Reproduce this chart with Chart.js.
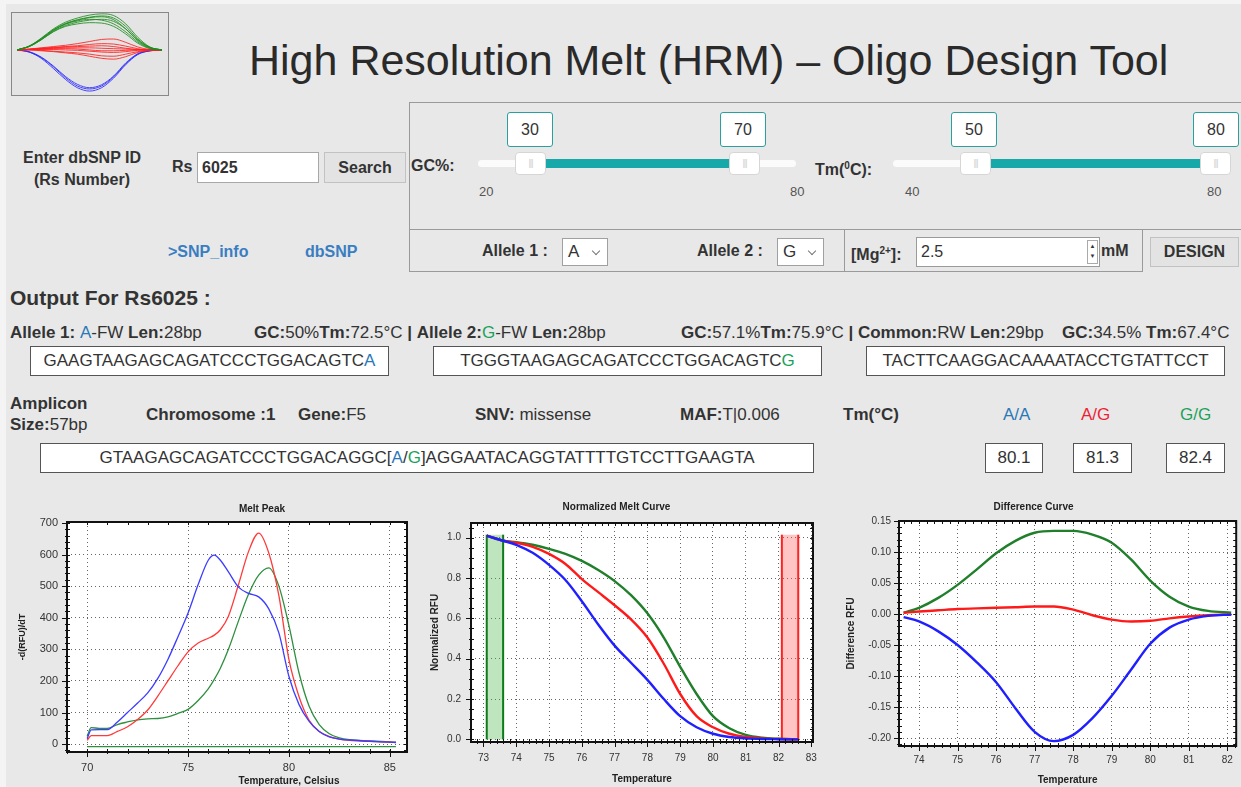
<!DOCTYPE html>
<html lang="en">
<head>
<meta charset="UTF-8">
<title>High Resolution Melt (HRM) - Oligo Design Tool</title>
<script src="https://cdn.jsdelivr.net/npm/chart.js"></script>
<style>
  body {
    margin: 0;
    width: 1241px;
    height: 787px;
    overflow: hidden;
    position: relative;
    background: #f4f4f4;
    font-family: "Liberation Sans", Arial, sans-serif;
    color: #333;
  }
  .sheet { position: absolute; left: 6px; top: 4px; right: 0; bottom: 0; background: #e8e8e8; }
  .t { position: absolute; white-space: nowrap; font-size: 16px; line-height: 20px; }
  .b { font-weight: bold; }
  .bl { color: #2b78b8; }
  .gr { color: #1aa25a; }
  .rd { color: #ee1d36; }
  .box {
    position: absolute; background: #fff; border: 1px solid #555; box-sizing: border-box;
    text-align: center; white-space: nowrap; font-size: 17px; line-height: 27px;
  }
  .panel { position: absolute; border: 1px solid #9a9a9a; box-sizing: border-box; }
  .btn {
    position: absolute; background: #e3e3e3; border: 1px solid #c2c2c2; box-sizing: border-box;
    font-weight: bold; font-size: 16px; text-align: center;
  }
  .vbox {
    position: absolute; top: 112px; width: 46px; height: 35px; background: #fff;
    border: 1px solid #2a9f9f; border-radius: 3px; box-sizing: border-box;
    text-align: center; line-height: 33px; font-size: 16px;
  }
  .track { position: absolute; top: 160px; height: 7px; background: #fbfbfb; border-radius: 4px; }
  .fill { position: absolute; top: 159px; height: 9px; background: #17a8a9; }
  .knob {
    position: absolute; top: 152px; width: 31px; height: 23px; background: #fff;
    border: 1px solid #d6d6d6; border-radius: 4px; box-sizing: border-box;
    text-align: center; font-size: 9px; line-height: 21px; color: #d0d0d0; letter-spacing: -1px;
  }
  .scl { position: absolute; font-size: 13px; line-height: 16px; color: #555; }
  .sel {
    position: absolute; top: 238px; height: 28px; background: #fff; border: 1px solid #a0a0a0;
    box-sizing: border-box; font-size: 17px; line-height: 26px; padding-left: 5px;
  }
  .chev {
    position: absolute; top: 9px; right: 8px; width: 5px; height: 5px;
    border-right: 1px solid #777; border-bottom: 1px solid #777; transform: rotate(45deg);
  }
  .chart { position: absolute; }
  .ctitle { position: absolute; font-size: 10px; font-weight: bold; color: #222; line-height: 12px; white-space: nowrap; }
</style>
</head>
<body>
<div class="sheet"></div>

<!-- logo -->
<div class="panel" style="left:11px; top:12px; width:158px; height:84px; border-color:#888; background:#e4e4e4;"></div>
<div class="chart" style="left:12px; top:13px;"><canvas id="logo" width="155" height="81"></canvas></div>

<div class="t" style="left:249px; top:36px; font-size:43px; line-height:48px; color:#2a2a2a;">High Resolution Melt (HRM) – Oligo Design Tool</div>

<!-- search block -->
<div class="t b" style="left:0; width:164px; text-align:center; top:148px;">Enter dbSNP ID</div>
<div class="t b" style="left:0; width:164px; text-align:center; top:170px;">(Rs Number)</div>
<div class="t b" style="left:172px; top:157px;">Rs</div>
<div class="box" style="left:197px; top:152px; width:122px; height:31px; border-color:#a8a8a8; text-align:left; padding-left:4px; font-weight:bold; font-size:16px; line-height:29px;">6025</div>
<div class="btn" style="left:324px; top:152px; width:82px; height:31px; line-height:29px;">Search</div>
<div class="t b" style="left:168px; top:242px; color:#3a7ec2;">&gt;SNP_info</div>
<div class="t b" style="left:305px; top:242px; color:#3a7ec2;">dbSNP</div>

<!-- parameter panel -->
<div class="panel" style="left:409px; top:102px; width:840px; height:128px;"></div>
<div class="panel" style="left:409px; top:229px; width:734px; height:43px;"></div>
<div class="panel" style="left:844px; top:229px; width:1px; height:43px; border-width:0 0 0 1px;"></div>

<div class="t b" style="left:411px; top:156px;">GC%:</div>
<div class="vbox" style="left:507px;">30</div>
<div class="vbox" style="left:720px;">70</div>
<div class="track" style="left:478px; width:318px;"></div>
<div class="fill" style="left:540px; width:195px;"></div>
<div class="knob" style="left:515px;">|||</div>
<div class="knob" style="left:729px;">|||</div>
<div class="scl" style="left:479px; top:184px;">20</div>
<div class="scl" style="left:790px; top:184px;">80</div>

<div class="t b" style="left:815px; top:156px;">Tm(<sup style="font-size:10px;">0</sup>C):</div>
<div class="vbox" style="left:951px;">50</div>
<div class="vbox" style="left:1193px;">80</div>
<div class="track" style="left:893px; width:337px;"></div>
<div class="fill" style="left:985px; width:220px;"></div>
<div class="knob" style="left:960px;">|||</div>
<div class="knob" style="left:1200px;">|||</div>
<div class="scl" style="left:905px; top:184px;">40</div>
<div class="scl" style="left:1207px; top:184px;">80</div>

<div class="t b" style="left:482px; top:241px;">Allele 1 :</div>
<div class="sel" style="left:562px; width:46px;">A<span class="chev"></span></div>
<div class="t b" style="left:697px; top:241px;">Allele 2 :</div>
<div class="sel" style="left:777px; width:47px;">G<span class="chev"></span></div>
<div class="t b" style="left:851px; top:241px;">[Mg<sup style="font-size:10px;">2+</sup>]:</div>
<div class="box" style="left:916px; top:237px; width:184px; height:30px; border-color:#9a9a9a; text-align:left; padding-left:4px; font-size:16px;">2.5
  <span style="position:absolute; right:1px; top:2px; width:11px; height:24px; border:1px solid #aaa; box-sizing:border-box; font-size:6px; line-height:10px; text-align:center; color:#333;">▲<br>▼</span>
</div>
<div class="t b" style="left:1101px; top:241px;">mM</div>
<div class="btn" style="left:1150px; top:237px; width:89px; height:30px; line-height:28px;">DESIGN</div>

<!-- output block -->
<div class="t b" style="left:10px; top:287px; font-size:21px; line-height:22px;">Output For Rs6025 :</div>

<div class="t" style="left:10px; top:323px; font-size:17px;"><b>Allele 1: </b><span class="bl">A</span>-FW <b>Len:</b>28bp</div>
<div class="t" style="left:254px; top:323px; font-size:17px;"><b>GC:</b>50%<b>Tm:</b>72.5°C <b>|</b> <b>Allele 2:</b><span class="gr">G</span>-FW <b>Len:</b>28bp</div>
<div class="t" style="left:681px; top:323px; font-size:17px;"><b>GC:</b>57.1%<b>Tm:</b>75.9°C <b>|</b> <b>Common:</b>RW <b>Len:</b>29bp</div>
<div class="t" style="left:1062px; top:323px; font-size:17px;"><b>GC:</b>34.5% <b>Tm:</b>67.4°C</div>

<div class="box" style="left:30px; top:346px; width:359px; height:30px;">GAAGTAAGAGCAGATCCCTGGACAGTC<span class="bl">A</span></div>
<div class="box" style="left:433px; top:346px; width:389px; height:30px;">TGGGTAAGAGCAGATCCCTGGACAGTC<span class="gr">G</span></div>
<div class="box" style="left:866px; top:346px; width:359px; height:30px;">TACTTCAAGGACAAAATACCTGTATTCCT</div>

<div class="t b" style="left:10px; top:394px; font-size:17px;">Amplicon</div>
<div class="t" style="left:10px; top:415px; font-size:17px;"><b>Size:</b>57bp</div>
<div class="t b" style="left:146px; top:405px; font-size:17px;">Chromosome :1</div>
<div class="t" style="left:298px; top:405px; font-size:17px;"><b>Gene:</b>F5</div>
<div class="t" style="left:475px; top:405px; font-size:17px;"><b>SNV:</b> missense</div>
<div class="t" style="left:680px; top:405px; font-size:17px;"><b>MAF:</b>T|0.006</div>
<div class="t b" style="left:843px; top:405px; font-size:17px;">Tm(°C)</div>
<div class="t bl" style="left:1003px; top:405px; font-size:17px;">A/A</div>
<div class="t rd" style="left:1081px; top:405px; font-size:17px;">A/G</div>
<div class="t gr" style="left:1180px; top:405px; font-size:17px;">G/G</div>

<div class="box" style="left:40px; top:443px; width:774px; height:30px;">GTAAGAGCAGATCCCTGGACAGGC[<span class="bl">A</span>/<span class="gr">G</span>]AGGAATACAGGTATTTTGTCCTTGAAGTA</div>
<div class="box" style="left:985px; top:443px; width:58px; height:30px;">80.1</div>
<div class="box" style="left:1073px; top:443px; width:59px; height:30px;">81.3</div>
<div class="box" style="left:1166px; top:443px; width:59px; height:30px;">82.4</div>

<!-- charts -->
<div class="chart" style="left:10px; top:497px;"><canvas id="peak" width="405" height="290"></canvas></div>
<div class="ctitle" style="left:212px; width:100px; text-align:center; top:503px;">Melt Peak</div>
<div class="ctitle" style="left:229px; width:120px; text-align:center; top:775px;">Temperature, Celsius</div>
<div class="chart" style="left:420px; top:497px;"><canvas id="norm" width="410" height="290"></canvas></div>
<div class="chart" style="left:830px; top:497px;"><canvas id="diff" width="411" height="290"></canvas></div>

<script>
// ---- values ----

// Melt Peak (-d(RFU)/dT)
const peakTemps = [70.0, 70.2, 70.6, 71.0, 71.5, 72.0, 72.5, 73.0, 73.5, 74.0, 74.5, 75.0, 75.5, 76.0, 76.3, 76.6,
                   77.0, 77.5, 78.0, 78.5, 79.0, 79.5, 80.0, 80.5, 81.0, 81.5, 82.0, 82.5, 83.0, 84.0, 85.0, 85.3];
const peakBlue  = [18, 45, 46, 46, 70, 100, 130, 162, 208, 268, 340, 415, 505, 582, 598, 582,
                   545, 497, 477, 466, 428, 352, 214, 125, 72, 40, 23, 16, 13, 9, 6, 5];
const peakRed   = [12, 27, 27, 27, 40, 55, 78, 108, 152, 200, 248, 292, 320, 335, 345, 362,
                   405, 505, 610, 668, 605, 470, 267, 150, 75, 40, 24, 16, 12, 9, 6, 5];
const peakGreen = [25, 52, 50, 50, 62, 70, 77, 80, 81, 86, 97, 110, 138, 175, 205, 240,
                   300, 390, 475, 535, 558, 500, 375, 225, 120, 62, 33, 20, 14, 10, 7, 6];
const peakBaseTemps = [70.0, 85.3];
const peakBaseLevel = [-8, -8];
const peakXTicks = [70, 75, 80, 85];
const peakYTicks = [0, 100, 200, 300, 400, 500, 600, 700];

// Normalized Melt Curve
const normTemps = [73.1, 73.6, 74.0, 74.5, 75.0, 75.5, 76.0, 76.5, 77.0, 77.5, 78.0, 78.5, 79.0, 79.5, 80.0, 80.5, 81.0, 81.5, 82.0, 82.6];
const normBlue  = [1.01, 0.985, 0.965, 0.925, 0.865, 0.79, 0.685, 0.57, 0.465, 0.38, 0.295, 0.2, 0.115, 0.06, 0.028, 0.012, 0.005, 0.002, 0.001, 0];
const normRed   = [1.01, 0.985, 0.975, 0.955, 0.92, 0.87, 0.795, 0.73, 0.665, 0.595, 0.505, 0.375, 0.225, 0.115, 0.06, 0.028, 0.012, 0.005, 0.002, 0];
const normGreen = [1.01, 0.985, 0.978, 0.965, 0.945, 0.92, 0.885, 0.84, 0.785, 0.715, 0.625, 0.505, 0.36, 0.225, 0.115, 0.055, 0.022, 0.008, 0.003, 0];
const preMeltBand  = [73.1, 73.6];
const postMeltBand = [82.1, 82.6];
const bandTop = 1.015;
const normXTicks = [73, 74, 75, 76, 77, 78, 79, 80, 81, 82, 83];
const normYTicks = [0, 0.2, 0.4, 0.6, 0.8, 1.0];

// Difference Curve
const diffTemps = [73.6, 74.0, 74.5, 75.0, 75.5, 76.0, 76.5, 77.0, 77.5, 78.0, 78.5, 79.0, 79.5, 80.0, 80.5, 81.0, 81.5, 82.1];
const diffGreen = [0.002, 0.01, 0.026, 0.047, 0.072, 0.098, 0.118, 0.131, 0.134, 0.134, 0.128, 0.115, 0.088, 0.054, 0.028, 0.012, 0.005, 0.002];
const diffRed   = [0.002, 0.004, 0.006, 0.008, 0.009, 0.01, 0.011, 0.012, 0.012, 0.007, -0.002, -0.009, -0.012, -0.011, -0.007, -0.004, -0.002, -0.001];
const diffBlue  = [-0.005, -0.012, -0.028, -0.05, -0.078, -0.11, -0.152, -0.19, -0.205, -0.195, -0.168, -0.132, -0.09, -0.048, -0.022, -0.009, -0.003, -0.001];
const diffXTicks = [74, 75, 76, 77, 78, 79, 80, 81, 82];
const diffYTicks = [-0.2, -0.15, -0.1, -0.05, 0, 0.05, 0.1, 0.15];

// logo thumbnail (difference-plot style)
const logoX = [0, 1, 2, 3, 4, 5, 6, 7, 8, 9, 10, 11, 12];
const logoGreen = [
  [0, 0.08, 0.24, 0.44, 0.58, 0.66, 0.71, 0.73, 0.68, 0.5, 0.24, 0.06, 0],
  [0, 0.09, 0.27, 0.48, 0.63, 0.72, 0.78, 0.81, 0.76, 0.56, 0.26, 0.06, 0],
  [0, 0.08, 0.25, 0.46, 0.61, 0.69, 0.73, 0.71, 0.62, 0.43, 0.19, 0.04, 0],
  [0, 0.09, 0.28, 0.5, 0.66, 0.76, 0.83, 0.86, 0.82, 0.62, 0.3, 0.07, 0],
  [0, 0.08, 0.24, 0.43, 0.56, 0.62, 0.65, 0.64, 0.56, 0.38, 0.16, 0.03, 0],
  [0, 0.09, 0.26, 0.47, 0.62, 0.71, 0.77, 0.79, 0.72, 0.5, 0.22, 0.05, 0]
];
const logoRed = [
  [0, 0.02, 0.05, 0.08, 0.11, 0.15, 0.2, 0.25, 0.26, 0.18, 0.07, 0.01, 0],
  [0, 0.02, 0.04, 0.06, 0.08, 0.1, 0.13, 0.15, 0.14, 0.09, 0.03, 0, 0],
  [0, 0.01, 0.03, 0.04, 0.05, 0.05, 0.05, 0.04, 0.03, 0.02, 0.01, 0, 0],
  [0, 0.01, 0.01, 0.01, 0, -0.01, -0.03, -0.05, -0.06, -0.04, -0.01, 0, 0],
  [0, 0, -0.01, -0.03, -0.05, -0.07, -0.1, -0.14, -0.15, -0.1, -0.04, -0.01, 0],
  [0, 0, -0.02, -0.04, -0.07, -0.1, -0.15, -0.2, -0.22, -0.16, -0.06, -0.01, 0],
  [0, 0.01, 0.02, 0.03, 0.03, 0.02, 0, -0.02, -0.02, -0.01, 0, 0, 0],
  [0, 0.01, 0.03, 0.05, 0.07, 0.08, 0.09, 0.1, 0.08, 0.04, 0.01, 0, 0]
];
const logoBlue = [
  [0, -0.05, -0.18, -0.4, -0.66, -0.86, -0.93, -0.86, -0.64, -0.33, -0.1, -0.02, 0],
  [0, -0.05, -0.2, -0.44, -0.7, -0.9, -0.98, -0.9, -0.67, -0.35, -0.11, -0.02, 0],
  [0, -0.04, -0.17, -0.38, -0.63, -0.82, -0.9, -0.83, -0.62, -0.31, -0.09, -0.02, 0]
];

// ---- chart setup ----
Chart.defaults.font.family = '"Liberation Sans", Arial, sans-serif';
Chart.defaults.color = '#333';
Chart.defaults.animation = false;

const xy = (xs, ys) => xs.map((x, i) => ({x: x, y: ys[i]}));

function curve(xs, ys, color, width) {
  return {data: xy(xs, ys), borderColor: color, borderWidth: width, pointRadius: 0,
          cubicInterpolationMode: 'monotone', fill: false};
}
function straight(xs, ys, color, width) {
  return {data: xy(xs, ys), borderColor: color, borderWidth: width, pointRadius: 0, tension: 0, fill: false};
}
function band(xs, top, color) {
  return {data: xy([xs[0], xs[0], xs[1], xs[1]], [0, top, top, 0]), borderWidth: 0, pointRadius: 0,
          tension: 0, backgroundColor: color, fill: 'origin'};
}

function axis(o) {
  return {
    type: 'linear', min: o.min, max: o.max,
    afterBuildTicks: s => { s.ticks = o.ticks.map(v => ({value: v})); },
    afterFit: s => { if (o.width) s.width = o.width; if (o.height) s.height = o.height; },
    grid: {color: '#666', lineWidth: 1, drawTicks: false},
    border: {display: false, dash: [1, 3]},
    ticks: {padding: o.pad, autoSkip: false, maxRotation: 0, font: {size: o.size}, color: '#333', callback: o.fmt},
    title: o.title ? {display: true, text: o.title, color: '#222', font: {size: o.titleSize, weight: 'bold'},
                      padding: {top: o.titlePad, bottom: o.titlePadB || 0}}
                   : {display: false}
  };
}

// white plot area, dark frame and the small tick marks round it
const plotFrame = {
  id: 'plotFrame',
  beforeDraw(chart) {
    const a = chart.chartArea, ctx = chart.ctx;
    ctx.save();
    ctx.fillStyle = '#fff';
    ctx.fillRect(a.left, a.top, a.right - a.left, a.bottom - a.top);
    ctx.restore();
  },
  afterDraw(chart, args, opts) {
    const a = chart.chartArea, ctx = chart.ctx, sx = chart.scales.x, sy = chart.scales.y;
    ctx.save();
    ctx.strokeStyle = '#111';
    ctx.lineWidth = 1;
    ctx.beginPath();
    const x0 = Math.ceil(sx.min / opts.xStep - 1e-6);
    for (let i = x0; i * opts.xStep <= sx.max + 1e-6; i++) {
      const px = Math.round(sx.getPixelForValue(i * opts.xStep)) + 0.5;
      ctx.moveTo(px, a.bottom - 3); ctx.lineTo(px, a.bottom + 2);
      ctx.moveTo(px, a.top); ctx.lineTo(px, a.top + 3);
    }
    const y0 = Math.ceil(sy.min / opts.yStep - 1e-6);
    for (let i = y0; i * opts.yStep <= sy.max + 1e-6; i++) {
      const py = Math.round(sy.getPixelForValue(i * opts.yStep)) + 0.5;
      ctx.moveTo(a.left - 2, py); ctx.lineTo(a.left + 3, py);
      ctx.moveTo(a.right - 3, py); ctx.lineTo(a.right, py);
    }
    opts.xMajor.forEach(v => {
      const px = Math.round(sx.getPixelForValue(v)) + 0.5;
      ctx.moveTo(px, a.bottom); ctx.lineTo(px, a.bottom + 5);
    });
    opts.yMajor.forEach(v => {
      const py = Math.round(sy.getPixelForValue(v)) + 0.5;
      ctx.moveTo(a.left - 5, py); ctx.lineTo(a.left, py);
    });
    ctx.stroke();
    ctx.lineWidth = 2;
    ctx.strokeRect(a.left, a.top, a.right - a.left, a.bottom - a.top);
    ctx.restore();
  }
};

const quiet = {legend: {display: false}, tooltip: {enabled: false}};

new Chart(document.getElementById('peak'), {
  type: 'line',
  data: {datasets: [
    curve(peakTemps, peakBlue, '#3c3cff', 1.3),
    curve(peakTemps, peakRed, '#ff3a3a', 1.3),
    curve(peakTemps, peakGreen, '#2e8f3e', 1.3),
    straight(peakBaseTemps, peakBaseLevel, '#2e8f3e', 1.3)
  ]},
  options: {
    responsive: false, devicePixelRatio: 1,
    layout: {padding: {left: 0, top: 25, right: 8, bottom: 0}},
    plugins: Object.assign({plotFrame: {xStep: 1, yStep: 20, xMajor: peakXTicks, yMajor: peakYTicks}}, quiet),
    scales: {
      x: axis({min: 69.0, max: 85.85, ticks: peakXTicks, height: 35, pad: 9, size: 11}),
      y: axis({min: -25, max: 703, ticks: peakYTicks, width: 57, pad: 9, size: 11,
               title: '-d(RFU)/dT', titleSize: 9, titlePad: 7})
    }
  },
  plugins: [plotFrame]
});

new Chart(document.getElementById('norm'), {
  type: 'line',
  data: {datasets: [
    curve(normTemps, normBlue, '#1f1fff', 2.4),
    curve(normTemps, normRed, '#ff1a1a', 2.4),
    curve(normTemps, normGreen, '#1f7f2a', 2.4),
    straight([preMeltBand[0], preMeltBand[0]], [0, bandTop], '#0f7a1a', 2),
    straight([preMeltBand[1], preMeltBand[1]], [0, bandTop], '#0f7a1a', 2),
    straight([postMeltBand[0], postMeltBand[0]], [0, bandTop], '#ff2020', 2),
    straight([postMeltBand[1], postMeltBand[1]], [0, bandTop], '#ff2020', 2),
    band(preMeltBand, bandTop, 'rgba(70,180,70,0.35)'),
    band(postMeltBand, bandTop, 'rgba(255,90,90,0.35)')
  ]},
  options: {
    responsive: false, devicePixelRatio: 1,
    layout: {padding: {left: 0, top: 0, right: 17, bottom: 0}},
    plugins: Object.assign({
      title: {display: true, text: 'Normalized Melt Curve', color: '#222', font: {size: 10, weight: 'bold'},
              padding: {top: 4, bottom: 10}},
      plotFrame: {xStep: 0.2, yStep: 0.05, xMajor: normXTicks, yMajor: normYTicks}
    }, quiet),
    scales: {
      x: axis({min: 72.62, max: 83.05, ticks: normXTicks, height: 45, pad: 10, size: 10,
               title: 'Temperature', titleSize: 10, titlePad: 0, titlePadB: 2}),
      y: axis({min: -0.013, max: 1.073, ticks: normYTicks, width: 51, pad: 10, size: 10,
               fmt: v => v.toFixed(1), title: 'Normalized RFU', titleSize: 10, titlePad: 9})
    }
  },
  plugins: [plotFrame]
});

new Chart(document.getElementById('diff'), {
  type: 'line',
  data: {datasets: [
    curve(diffTemps, diffBlue, '#1f1fff', 2.4),
    curve(diffTemps, diffRed, '#ff1a1a', 2.4),
    curve(diffTemps, diffGreen, '#1f7f2a', 2.4)
  ]},
  options: {
    responsive: false, devicePixelRatio: 1,
    layout: {padding: {left: 0, top: 0, right: 4, bottom: 0}},
    plugins: Object.assign({
      title: {display: true, text: 'Difference Curve', color: '#222', font: {size: 10, weight: 'bold'},
              padding: {top: 4, bottom: 8}},
      plotFrame: {xStep: 0.2, yStep: 0.01, xMajor: diffXTicks, yMajor: diffYTicks}
    }, quiet),
    scales: {
      x: axis({min: 73.48, max: 82.23, ticks: diffXTicks, height: 41, pad: 8, size: 10,
               title: 'Temperature', titleSize: 10, titlePad: 0, titlePadB: 1}),
      y: axis({min: -0.2129, max: 0.15, ticks: diffYTicks, width: 69, pad: 8, size: 10,
               fmt: v => v.toFixed(2), title: 'Difference RFU', titleSize: 10, titlePad: 15})
    }
  },
  plugins: [plotFrame]
});

// logo: bundle of thin curves, no axes
const logoSets = [];
logoGreen.forEach(ys => logoSets.push(curve(logoX, ys, 'rgba(30,140,30,0.85)', 1)));
logoRed.forEach(ys => logoSets.push(curve(logoX, ys, 'rgba(255,30,30,0.85)', 1)));
logoBlue.forEach(ys => logoSets.push(curve(logoX, ys, 'rgba(40,40,255,0.85)', 1)));
new Chart(document.getElementById('logo'), {
  type: 'line',
  data: {datasets: logoSets},
  options: {
    responsive: false, devicePixelRatio: 1,
    layout: {padding: {left: 5, right: 5, top: 0, bottom: 0}},
    plugins: quiet,
    scales: {
      x: {type: 'linear', display: false, min: 0, max: 12},
      y: {display: false, min: -1.05, max: 0.88}
    }
  }
});
</script>
</body>
</html>
